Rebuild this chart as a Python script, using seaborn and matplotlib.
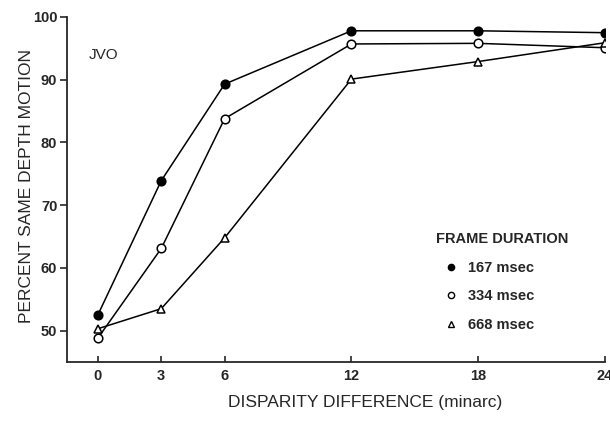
import numpy as np
import pandas as pd
import matplotlib
matplotlib.use("Agg")
import matplotlib.pyplot as plt
import seaborn as sns
from matplotlib.lines import Line2D

sns.set_style("ticks")
plt.rcParams["font.family"] = ["Liberation Sans", "DejaVu Sans"]

disparity = [0, 3, 6, 12, 18, 24]
x_ticks = [0, 3, 6, 12, 18, 24]
y_ticks = [50, 60, 70, 80, 90, 100]

durations = ["167 msec", "334 msec", "668 msec"]
pct_167 = [52.5, 73.9, 89.3, 97.8, 97.8, 97.5]
pct_334 = [48.8, 63.1, 83.8, 95.7, 95.8, 95.1]
pct_668 = [50.3, 53.5, 64.8, 90.1, 92.9, 95.9]

df = pd.DataFrame({
    "disparity": disparity * 3,
    "pct": pct_167 + pct_334 + pct_668,
    "duration": [d for d in durations for _ in disparity],
})

styles = {
    "167 msec": dict(marker="o", mfc="black", ms=6.2),
    "334 msec": dict(marker="o", mfc="white", ms=6.2),
    "668 msec": dict(marker="^", mfc="white", ms=6.2),
}

fig = plt.figure(figsize=(6.1, 4.22), dpi=100)
ax = fig.add_axes([67 / 610, 1 - 362 / 422, 538 / 610, 345 / 422])

for d in durations:
    st = styles[d]
    sub = df[df["duration"] == d]
    sns.lineplot(data=sub, x="disparity", y="pct", ax=ax, color="black",
                 linewidth=1.1, marker=st["marker"], markersize=st["ms"],
                 markerfacecolor=st["mfc"], markeredgecolor="black",
                 markeredgewidth=1.1, legend=False)

ax.set_xlim(-1.46, 24)
ax.set_ylim(45, 100)
ax.set_xticks(x_ticks)
ax.set_yticks(y_ticks)
ax.set_xticklabels([str(t) for t in x_ticks], fontsize=10.5, fontweight="bold")
ax.set_yticklabels([str(t) for t in y_ticks], fontsize=10.5, fontweight="bold")
ax.tick_params(axis="x", direction="in", length=4, width=1.2, pad=5)
ax.tick_params(axis="y", direction="out", length=5, width=1.2, pad=2)
for s in ["top", "right"]:
    ax.spines[s].set_visible(False)
for s in ["left", "bottom"]:
    ax.spines[s].set_linewidth(1.3)

ax.set_xlabel("")
ax.set_ylabel("")
fig.text(27 / 610, 1 - 186 / 422, "PERCENT SAME DEPTH MOTION", rotation=90,
         ha="center", va="center", fontsize=12.5)
fig.text(365 / 610, 1 - 402 / 422, "DISPARITY DIFFERENCE (minarc)",
         ha="center", va="center", fontsize=12.5)
ax.text(-0.42, 94.0, "JVO", ha="left", va="center", fontsize=11)

handles = [
    Line2D([], [], linestyle="none", marker="o", markersize=4.5,
           markerfacecolor="black", markeredgecolor="black"),
    Line2D([], [], linestyle="none", marker="o", markersize=4.5,
           markerfacecolor="white", markeredgecolor="black", markeredgewidth=1),
    Line2D([], [], linestyle="none", marker="^", markersize=4.5,
           markerfacecolor="white", markeredgecolor="black", markeredgewidth=1),
]
leg = ax.legend(handles, durations, loc="upper left",
                bbox_to_anchor=(426 / 610, 1 - 222 / 422),
                bbox_transform=fig.transFigure, frameon=False,
                title="FRAME DURATION", alignment="left",
                handlelength=2.0, handletextpad=0.15, labelspacing=1.0,
                borderpad=0.2, prop={"size": 10.5, "weight": "bold"},
                title_fontproperties={"size": 10.5, "weight": "bold"})

fig.savefig("out.png", dpi=100)
